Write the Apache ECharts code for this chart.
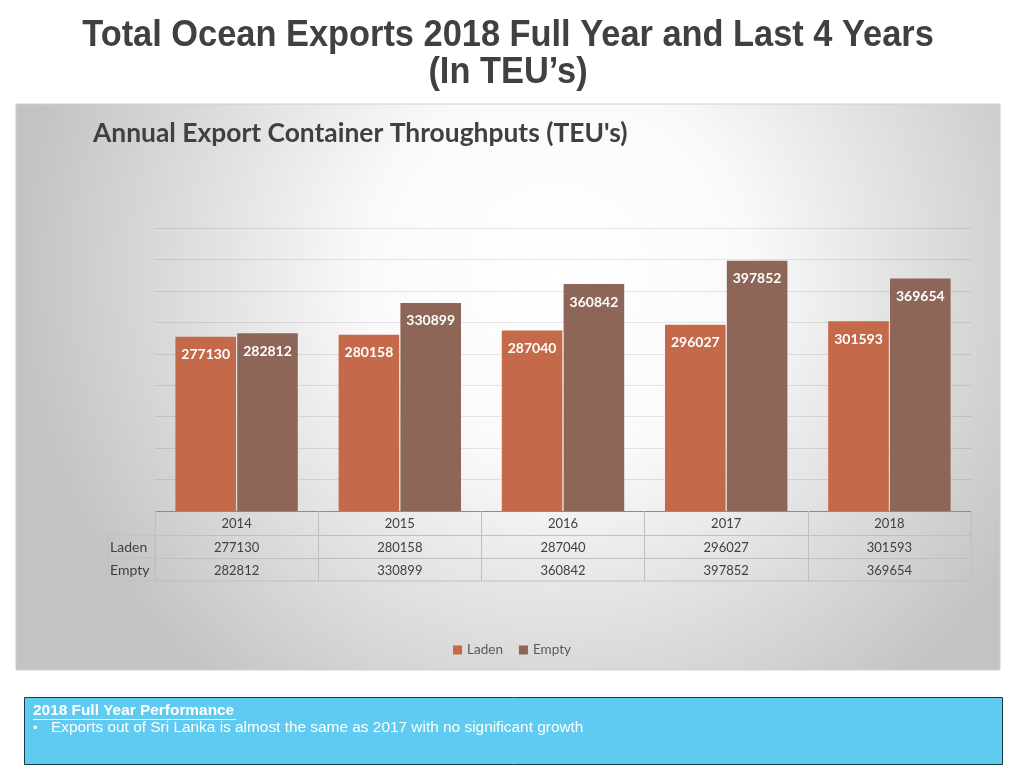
<!DOCTYPE html>
<html>
<head>
<meta charset="utf-8">
<script src="https://cdn.jsdelivr.net/npm/echarts@6/dist/echarts.min.js"></script>
<style>
html,body{margin:0;padding:0;background:#fff;}
#c{width:1024px;height:768px;}
</style>
</head>
<body>
<div id="c"></div>
<script>
const years = ['2014', '2015', '2016', '2017', '2018'];
const laden = [277130, 280158, 287040, 296027, 301593];
const empty = [282812, 330899, 360842, 397852, 369654];
const seriesNames = ['Laden', 'Empty'];
const pageTitle1 = 'Total Ocean Exports 2018 Full Year and Last 4 Years';
const pageTitle2 = '(In TEU\u2019s)';
const chartTitle = "Annual Export Container Throughputs (TEU's)";
const noteTitle = '2018 Full Year Performance';
const noteText = 'Exports out of Sri Lanka is almost the same as 2017 with no significant growth';

const chart = echarts.init(document.getElementById('c'), null, {renderer: 'canvas'});

const GL = 155, GR = 971, GT = 228, GB = 511;
const tableLine = '#bfbfbf';
const tableText = '#404040';
const calib = 'Lato, "Open Sans", sans-serif';
const arial = '"Liberation Sans", Arial, sans-serif';

const commonAxis = {
  type: 'category',
  position: 'bottom',
  boundaryGap: true,
  axisTick: {show: true, interval: 0, length: 24, lineStyle: {color: tableLine}},
  axisLabel: {interval: 0, margin: 6, fontFamily: calib, fontSize: 13, color: tableText},
  splitLine: {show: false}
};

const option = {
  animation: false,
  grid: {left: GL, right: 1024 - GR, top: GT, bottom: 768 - GB, containLabel: false},
  legend: {
    data: seriesNames,
    top: 638,
    left: 'center',
    itemWidth: 9,
    itemHeight: 9,
    itemGap: 16,
    icon: 'rect',
    textStyle: {fontFamily: calib, fontSize: 13.5, color: '#595959'}
  },
  xAxis: [
    Object.assign({}, commonAxis, {
      data: years,
      axisLine: {show: true, lineStyle: {color: '#8c8c8c', width: 1}}
    }),
    Object.assign({}, commonAxis, {
      data: laden.map(String),
      offset: 24,
      axisLine: {show: true, lineStyle: {color: tableLine}},
      axisTick: {show: true, interval: 0, length: 23, lineStyle: {color: tableLine}}
    }),
    Object.assign({}, commonAxis, {
      data: empty.map(String),
      offset: 47,
      axisLine: {show: true, lineStyle: {color: tableLine}},
      axisTick: {show: true, interval: 0, length: 23, lineStyle: {color: tableLine}}
    })
  ],
  yAxis: {
    type: 'value',
    min: 0,
    max: 450000,
    interval: 50000,
    axisLabel: {show: false},
    axisLine: {show: false},
    axisTick: {show: false},
    splitLine: {lineStyle: {color: 'rgba(0,0,0,0.09)', width: 1}}
  },
  series: [
    {
      name: seriesNames[0],
      type: 'bar',
      data: laden,
      xAxisIndex: 0,
      barCategoryGap: '25%',
      barGap: '2%',
      itemStyle: {color: '#C4694A'},
      label: {show: true, position: 'insideTop', distance: 11, color: '#fff', fontFamily: calib, fontWeight: 'bold', fontSize: 14}
    },
    {
      name: seriesNames[1],
      type: 'bar',
      data: empty,
      xAxisIndex: 0,
      barCategoryGap: '25%',
      barGap: '2%',
      itemStyle: {color: '#8D6657'},
      label: {show: true, position: 'insideTop', distance: 11, color: '#fff', fontFamily: calib, fontWeight: 'bold', fontSize: 14}
    }
  ],
  graphic: [
    {
      type: 'rect', z: -10, silent: true,
      shape: {x: 16, y: 104, width: 984, height: 566},
      style: {
        fill: {
          type: 'radial', x: 0.55, y: 0.3, r: 0.95,
          colorStops: [
            {offset: 0, color: '#ffffff'},
            {offset: 0.35, color: '#fafafa'},
            {offset: 1, color: '#c3c3c3'}
          ]
        },
        stroke: '#d0d0d0', lineWidth: 1
      }
    },
    {
      type: 'text', z: 10, x: 508, y: 36, scaleX: 0.955,
      style: {text: pageTitle1, font: 'bold 36px ' + arial, fill: '#404040', align: 'center', verticalAlign: 'middle'}
    },
    {
      type: 'text', z: 10, x: 508, y: 73, scaleX: 0.955,
      style: {text: pageTitle2, font: 'bold 36px ' + arial, fill: '#404040', align: 'center', verticalAlign: 'middle'}
    },
    {
      type: 'text', z: 10, x: 93, y: 134, scaleX: 1.015,
      style: {text: chartTitle, font: 'bold 26px ' + calib, fill: '#404040', align: 'left', verticalAlign: 'middle'}
    },
    // row header column of data table
    {type: 'line', z: 10, shape: {x1: 108, y1: 535, x2: GL, y2: 535}, style: {stroke: tableLine, lineWidth: 1}},
    {type: 'line', z: 10, shape: {x1: 108, y1: 558, x2: GL, y2: 558}, style: {stroke: tableLine, lineWidth: 1}},
    {type: 'line', z: 10, shape: {x1: 108, y1: 581, x2: GR, y2: 581}, style: {stroke: tableLine, lineWidth: 1}},
    {type: 'line', z: 10, shape: {x1: 108, y1: 535, x2: 108, y2: 581}, style: {stroke: tableLine, lineWidth: 1}},
    {type: 'line', z: 10, shape: {x1: GL, y1: 535, x2: GL, y2: 581}, style: {stroke: tableLine, lineWidth: 1}},
    {
      type: 'text', z: 10, x: 110, y: 547,
      style: {text: seriesNames[0], font: '14px ' + calib, fill: tableText, align: 'left', verticalAlign: 'middle'}
    },
    {
      type: 'text', z: 10, x: 110, y: 570,
      style: {text: seriesNames[1], font: '14px ' + calib, fill: tableText, align: 'left', verticalAlign: 'middle'}
    },
    // note box
    {
      type: 'rect', z: 10,
      shape: {x: 24.5, y: 697.5, width: 978, height: 67},
      style: {fill: '#5FCBF1', stroke: '#1d3a4c', lineWidth: 1}
    },
    {
      type: 'text', z: 11, x: 33, y: 711, scaleX: 1.1,
      style: {text: noteTitle, font: 'bold 14px ' + arial, fill: '#ffffff', align: 'left', verticalAlign: 'middle'}
    },
    {type: 'line', z: 11, shape: {x1: 33, y1: 719.5, x2: 236, y2: 719.5}, style: {stroke: '#ffffff', lineWidth: 1}},
    {
      type: 'text', z: 11, x: 33, y: 728,
      style: {text: '\u2022', font: '13px ' + arial, fill: '#ffffff', align: 'left', verticalAlign: 'middle'}
    },
    {
      type: 'text', z: 11, x: 51, y: 728, scaleX: 1.1,
      style: {text: noteText, font: '14px ' + arial, fill: '#ffffff', align: 'left', verticalAlign: 'middle'}
    }
  ]
};
chart.setOption(option);
</script>
</body>
</html>
